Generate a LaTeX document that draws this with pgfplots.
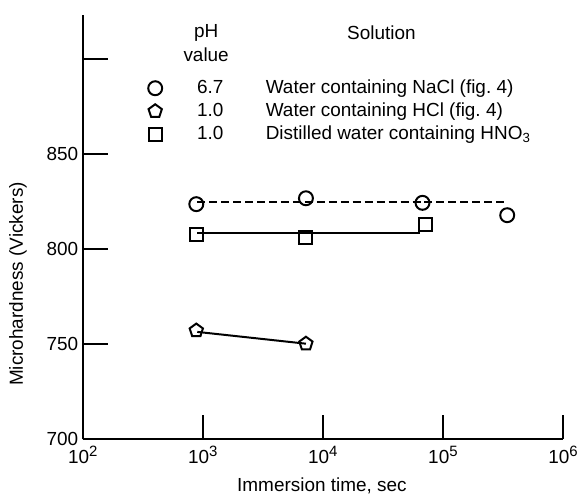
\documentclass[border=0pt]{standalone}
\usepackage{fontspec}
\setmainfont{Liberation Sans}
\usepackage{pgfplots}
\pgfplotsset{compat=1.18}
\newcommand{\expo}[1]{\raisebox{0.4em}{\fontsize{15bp}{15bp}\selectfont #1}}
\begin{document}
\fontsize{19bp}{22bp}\selectfont
\begin{tikzpicture}
\begin{axis}[
  scale only axis, width=482bp, height=426bp,
  xmode=log, xmin=100, xmax=1e6, ymin=700, ymax=923,
  axis x line*=bottom, axis y line*=left,
  axis line style={-, line width=2bp},
  every tick/.style={black, line width=2bp},
  major tick length=25bp, tick align=inside,
  xminorticks=false,
  xtick={100,1000,10000,100000,1000000},
  xticklabels={10\expo{2},10\expo{3},10\expo{4},10\expo{5},10\expo{6}},
  ytick={700,750,800,850,900},
  yticklabels={700,750,800,850,{}},
  /pgf/number format/assume math mode=true,
  yticklabel style={xshift=2bp},
  ticklabel style={font=\fontsize{19bp}{22bp}\selectfont},
  clip=false,
  legend cell align=left,
  legend style={draw=none, fill=none, at={(axis description cs:0.136,0.852)}, anchor=north west, row sep=2.5bp, inner sep=0pt, font=\fontsize{19bp}{22bp}\selectfont},
]
% lines
\addplot[black, line width=2bp, dash pattern=on 8bp off 4bp, forget plot] coordinates {(900,824.5) (330000,824.5)};
\addplot[black, line width=2bp, forget plot] coordinates {(900,808.6) (64000,808.6)};
\addplot[black, line width=2bp, forget plot] coordinates {(900,756.5) (7230,750.3)};
% marks
\addplot[only marks, mark=o, mark size=7bp, line width=2bp, mark options={fill=white}] coordinates {(883,823.6) (7230,826.7) (67600,824.3) (343000,817.8)};
\addplot[only marks, mark=pentagon, mark size=7bp, line width=2bp, mark options={fill=white}] coordinates {(883,757.2) (7230,750.3)};
\addplot[only marks, mark=square, mark size=6.5bp, line width=2bp, mark options={fill=white}] coordinates {(883,807.9) (7230,806.3) (71600,812.8)};
\legend{\hspace*{33bp}\makebox[69bp][l]{6.7}Water containing NaCl (fig.~4),
        \hspace*{33bp}\makebox[69bp][l]{1.0}Water containing HCl (fig.~4),
        \hspace*{33bp}\makebox[69bp][l]{1.0}Distilled water containing HNO\textsubscript{3}}
\node at (axis description cs:0.257,0.958) {pH};
\node at (axis description cs:0.257,0.906) {value};
\node at (axis description cs:0.622,0.958) {Solution};
\node[rotate=90] at (axis description cs:-0.135,0.366) {Microhardness (Vickers)};
\node at (axis description cs:0.498,-0.110) {Immersion time, sec};
\path (axis description cs:-0.1722,-0.1362) rectangle (axis description cs:1.0394,1.0352);
\end{axis}
\end{tikzpicture}
\end{document}
